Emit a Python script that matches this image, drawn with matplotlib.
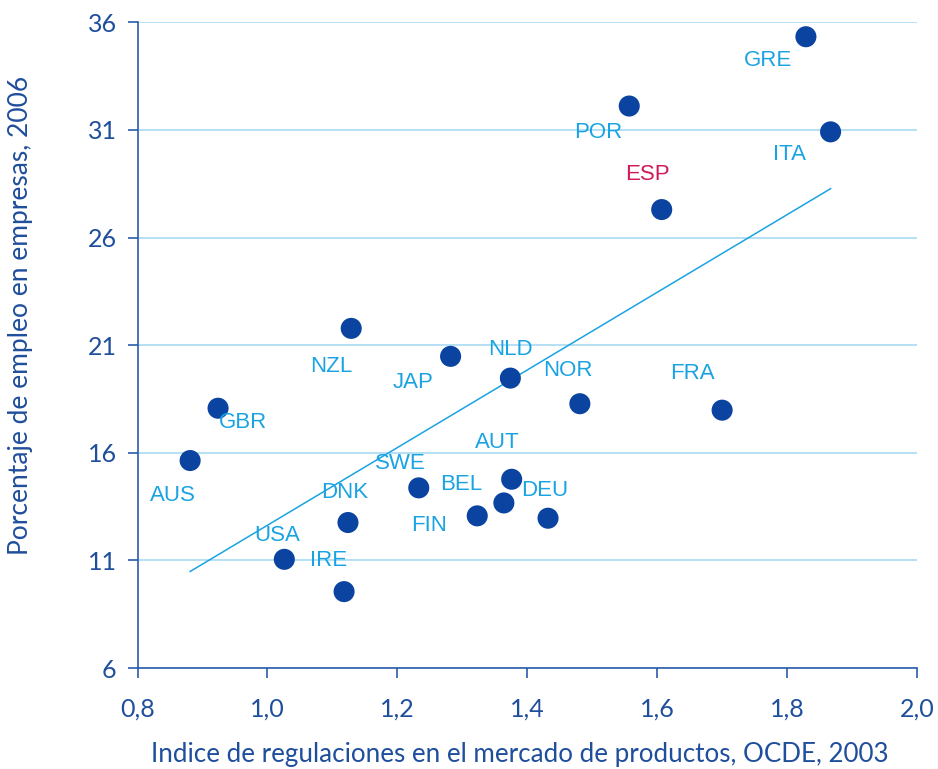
import numpy as np
import matplotlib
matplotlib.use("Agg")
import matplotlib.pyplot as plt

countries = ["AUS", "GBR", "USA", "NZL", "DNK", "IRE", "SWE", "JAP", "FIN", "BEL",
             "AUT", "NLD", "DEU", "NOR", "FRA", "ESP", "POR", "GRE", "ITA"]
regulation = [0.881, 0.924, 1.026, 1.129, 1.124, 1.118, 1.233, 1.282, 1.323, 1.364,
              1.376, 1.374, 1.432, 1.481, 1.700, 1.607, 1.557, 1.829, 1.867]
employment = [15.64, 18.07, 11.05, 21.78, 12.76, 9.55, 14.37, 20.48, 13.07, 13.67,
              14.77, 19.47, 12.96, 18.28, 17.98, 27.30, 32.11, 35.33, 30.91]
x_ticks = [0.8, 1.0, 1.2, 1.4, 1.6, 1.8, 2.0]
y_ticks = [6, 11, 16, 21, 26, 31, 36]
highlight = "ESP"

# label offsets in pixels (dx, dy), style only
label_offsets = {
    "GRE": (-38, -24), "POR": (-31, -26), "ITA": (-41, -23), "ESP": (-14, 35),
    "NZL": (-20, -38), "JAP": (-37, -26), "NLD": (0, 29), "GBR": (25, -14),
    "AUS": (-17, -35), "AUT": (-14, 37), "SWE": (-18, 24), "BEL": (-43, 18),
    "DEU": (-3, 28), "DNK": (-3, 30), "FIN": (-48, -10), "USA": (-7, 24),
    "IRE": (-16, 31), "NOR": (-12, 33), "FRA": (-30, 37),
}

dark = "#1f4e9c"
light = "#1aa3e3"

fig = plt.figure(figsize=(9.38, 7.69), dpi=100)
ax = fig.add_axes([0.1466, 0.1313, 0.9776 - 0.1466, 0.971 - 0.1313])

x = np.array(regulation)
y = np.array(employment)

ax.set_xlim(0.8, 2.0)
ax.set_ylim(6, 36)
ax.set_xticks(x_ticks)
ax.set_yticks(y_ticks)
ax.set_xticklabels([f"{t:.1f}".replace(".", ",") for t in x_ticks])
ax.set_yticklabels([str(t) for t in y_ticks])

ax.grid(axis="y", color="#a9daf2", linewidth=1.2, zorder=0)
ax.set_axisbelow(True)
for s in ["top", "right"]:
    ax.spines[s].set_visible(False)
for s in ["left", "bottom"]:
    ax.spines[s].set_color("#2a5caa")
    ax.spines[s].set_linewidth(1.2)
ax.tick_params(axis="both", colors="#2a5caa", length=7, width=1.2, labelcolor=dark,
               labelsize=18)
for lbl in ax.get_xticklabels() + ax.get_yticklabels():
    lbl.set_fontfamily("Lato")
ax.tick_params(axis="x", pad=14)
ax.tick_params(axis="y", pad=8)

# regression line
m, b = np.polyfit(x, y, 1)
xs = np.array([x.min(), x.max()])
ax.plot(xs, m * xs + b, color=light, linewidth=1.1, zorder=2)

ax.scatter(x, y, s=230, color="#0a43a0", edgecolors="none", zorder=3)

for c, xi, yi in zip(countries, x, y):
    dx, dy = label_offsets[c]
    ax.annotate(c, (xi, yi), xytext=(dx, dy), textcoords="offset pixels",
                ha="center", va="center", fontsize=16, family="Liberation Sans",
                color="#d0185a" if c == highlight else light, zorder=4)

ax.set_xlabel("Indice de regulaciones en el mercado de productos, OCDE, 2003",
              fontsize=18.7, color=dark, family="Lato")
ax.xaxis.set_label_coords(0.491, -0.114)
ax.set_ylabel("Porcentaje de empleo en empresas, 2006",
              fontsize=19, color=dark, family="Lato")
ax.yaxis.set_label_coords(-0.134, 0.546)

fig.savefig("out.png", dpi=100)
